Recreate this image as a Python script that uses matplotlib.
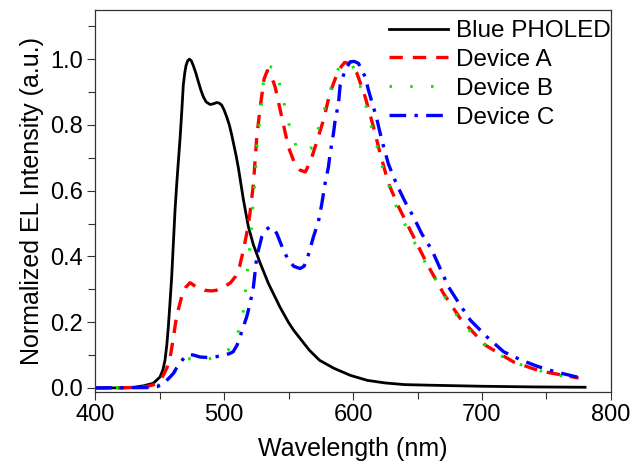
import matplotlib
matplotlib.use("Agg")
import matplotlib.pyplot as plt
from matplotlib.ticker import MultipleLocator

plt.rcParams['font.family'] = ['Liberation Sans', 'DejaVu Sans']

# EL spectra, wavelength (nm) vs normalized intensity
wl_blue = [400, 420, 430, 437, 445, 450.2, 452.5, 454.1, 455.5, 456.7, 458, 459.3, 460.6,
           461.9, 463.2, 464.4, 465.8, 467.1, 468.3, 469.5, 470.4, 471.7, 473, 474.5, 476.1,
           478, 480, 482, 483.9, 486, 489.1, 491.5, 494.3, 496.3, 498.1, 500, 502, 504,
           505.9, 509.2, 511, 515, 518.8, 522.7, 527.9, 534.3, 543.4, 549.8, 554, 559, 566,
           574, 585, 598, 611, 625, 640, 662, 700, 740, 780]
el_blue = [0, 0, 0.002, 0.006, 0.014, 0.033, 0.055, 0.084, 0.13, 0.186, 0.26, 0.338, 0.44,
           0.541, 0.62, 0.685, 0.759, 0.84, 0.921, 0.96, 0.98, 0.995, 1.0, 0.995, 0.98,
           0.958, 0.931, 0.905, 0.885, 0.87, 0.862, 0.864, 0.868, 0.866, 0.86, 0.845, 0.824,
           0.8, 0.769, 0.708, 0.67, 0.571, 0.49, 0.435, 0.38, 0.318, 0.245, 0.2, 0.175, 0.15,
           0.115, 0.084, 0.06, 0.038, 0.023, 0.015, 0.01, 0.008, 0.005, 0.003, 0.002]

wl_a = [400, 420, 435, 442, 447, 450, 453, 455.5, 458, 460.5, 463, 467, 470, 473.5, 478.5,
        485, 490, 494, 500, 505, 509, 512, 515, 518, 520, 522.7, 525.3, 528, 531, 533.5,
        536, 539.5, 544.7, 549.8, 554, 559, 563, 567, 570.6, 577, 582, 588.7, 593.5, 598,
        603, 609.4, 615.8, 621, 627.5, 635.3, 645.6, 657.3, 670.2, 683.2, 702.6, 724.5,
        745.3, 771, 775]
el_a = [0, 0, 0.002, 0.006, 0.012, 0.02, 0.04, 0.06, 0.09, 0.15, 0.216, 0.277, 0.305, 0.32,
        0.307, 0.297, 0.295, 0.297, 0.307, 0.32, 0.34, 0.37, 0.42, 0.48, 0.53, 0.62, 0.764,
        0.855, 0.94, 0.965, 0.955, 0.916, 0.824, 0.733, 0.69, 0.662, 0.657, 0.69, 0.733,
        0.814, 0.896, 0.967, 0.99, 0.985, 0.957, 0.885, 0.794, 0.713, 0.622, 0.551, 0.47,
        0.378, 0.287, 0.211, 0.13, 0.079, 0.051, 0.033, 0.03]

wl_b = [400, 440, 446, 450, 455, 460.6, 466, 471, 477, 484, 490, 497, 503, 507, 510, 512.3,
        515, 516.2, 517.5, 518.8, 520.1, 521.4, 522.7, 524, 525.3, 526.6, 528, 529.2, 530.4,
        532, 535, 539.5, 542.9, 546, 548.6, 552.5, 556.4, 561, 567.2, 572.3, 576.3, 580.2,
        584.1, 589.2, 594, 599, 604.2, 608.1, 611.3, 614.6, 618.5, 621.6, 625.7, 630.1,
        634.5, 641.2, 654.7, 662, 668.2, 676, 685.2, 696.6, 709.6, 722, 735, 747.8, 760.2,
        772.4, 775]
el_b = [0, 0.002, 0.005, 0.01, 0.025, 0.044, 0.07, 0.089, 0.088, 0.084, 0.09, 0.1, 0.115,
        0.135, 0.16, 0.186, 0.236, 0.282, 0.338, 0.383, 0.434, 0.5, 0.581, 0.632, 0.728,
        0.779, 0.83, 0.875, 0.926, 0.965, 0.978, 0.972, 0.926, 0.875, 0.824, 0.774, 0.728,
        0.718, 0.728, 0.779, 0.83, 0.875, 0.926, 0.977, 0.99, 0.987, 0.936, 0.885, 0.84,
        0.789, 0.738, 0.688, 0.64, 0.591, 0.541, 0.49, 0.39, 0.346, 0.297, 0.245, 0.196,
        0.148, 0.11, 0.082, 0.064, 0.049, 0.038, 0.029, 0.028]

wl_c = [400, 440, 448, 452, 455.4, 458, 460.6, 463, 465.8, 469, 473.5, 477, 481.3, 489, 494,
        499.4, 504, 507, 510, 512.3, 514.9, 517.5, 520.1, 522.7, 525.3, 529.2, 532, 535.6,
        538, 540.8, 546, 549.8, 554, 558.9, 562, 565, 569.3, 573.1, 575.8, 578.3, 580.9,
        582.2, 584.8, 586.1, 588.7, 590, 593.9, 597.8, 601, 604.2, 609.4, 612, 614.6, 618,
        621, 623.6, 627.5, 632.7, 635.3, 640.5, 646.9, 653.4, 661.2, 667.6, 674.1, 681.9,
        691, 703.9, 716.8, 729.7, 742.7, 756.9, 773.8, 776]
el_c = [0, 0.001, 0.004, 0.01, 0.023, 0.033, 0.044, 0.06, 0.076, 0.092, 0.102, 0.099, 0.094,
        0.092, 0.095, 0.1, 0.104, 0.11, 0.13, 0.155, 0.186, 0.216, 0.257, 0.307, 0.399, 0.46,
        0.48, 0.49, 0.485, 0.47, 0.419, 0.389, 0.37, 0.363, 0.37, 0.4, 0.46, 0.505, 0.561,
        0.622, 0.672, 0.713, 0.774, 0.814, 0.865, 0.921, 0.967, 0.992, 0.993, 0.987, 0.946,
        0.905, 0.87, 0.825, 0.775, 0.735, 0.68, 0.63, 0.607, 0.565, 0.52, 0.468, 0.419,
        0.363, 0.307, 0.259, 0.206, 0.155, 0.11, 0.086, 0.066, 0.049, 0.033, 0.031]

labels = ["Blue PHOLED", "Device A", "Device B", "Device C"]

fig = plt.figure(figsize=(6.35, 4.61), dpi=100)
ax = fig.add_axes([0.150, 0.150, 0.812, 0.828])

ax.plot(wl_blue, el_blue, color='black', lw=2.0, label=labels[0])
ax.plot(wl_a, el_a, color='#ff0000', lw=2.4, dashes=(4, 3), label=labels[1])
ax.plot(wl_b, el_b, color='#00ee00', lw=2.2, dashes=(0.8, 6), label=labels[2])
ax.plot(wl_c, el_c, color='#0000ff', lw=2.4, dashes=(5, 2.5, 1, 2.5), label=labels[3])

ax.set_xlim(400, 800)
ax.set_ylim(-0.012, 1.149)
ax.xaxis.set_major_locator(MultipleLocator(100))
ax.xaxis.set_minor_locator(MultipleLocator(50))
ax.yaxis.set_major_locator(MultipleLocator(0.2))
ax.yaxis.set_minor_locator(MultipleLocator(0.1))
ax.yaxis.set_major_formatter(plt.FormatStrFormatter('%.1f'))
ax.tick_params(which='both', direction='out', top=False, right=False,
               labelsize=17, width=0.8, color='#333333', pad=3)
ax.tick_params(which='major', length=6)
ax.tick_params(which='minor', length=5)
for s in ax.spines.values():
    s.set_linewidth(0.9)
    s.set_color('#333333')

ax.set_xlabel("Wavelength (nm)", fontsize=18, labelpad=8)
ax.set_ylabel("Normalized EL Intensity (a.u.)", fontsize=18, labelpad=4)

ax.legend(loc='upper right', bbox_to_anchor=(1.0, 0.974), frameon=False,
          fontsize=17.5, handlelength=2.4, handletextpad=0.35, labelspacing=0.28,
          borderpad=0, borderaxespad=0)

fig.savefig("out.png", dpi=100)
